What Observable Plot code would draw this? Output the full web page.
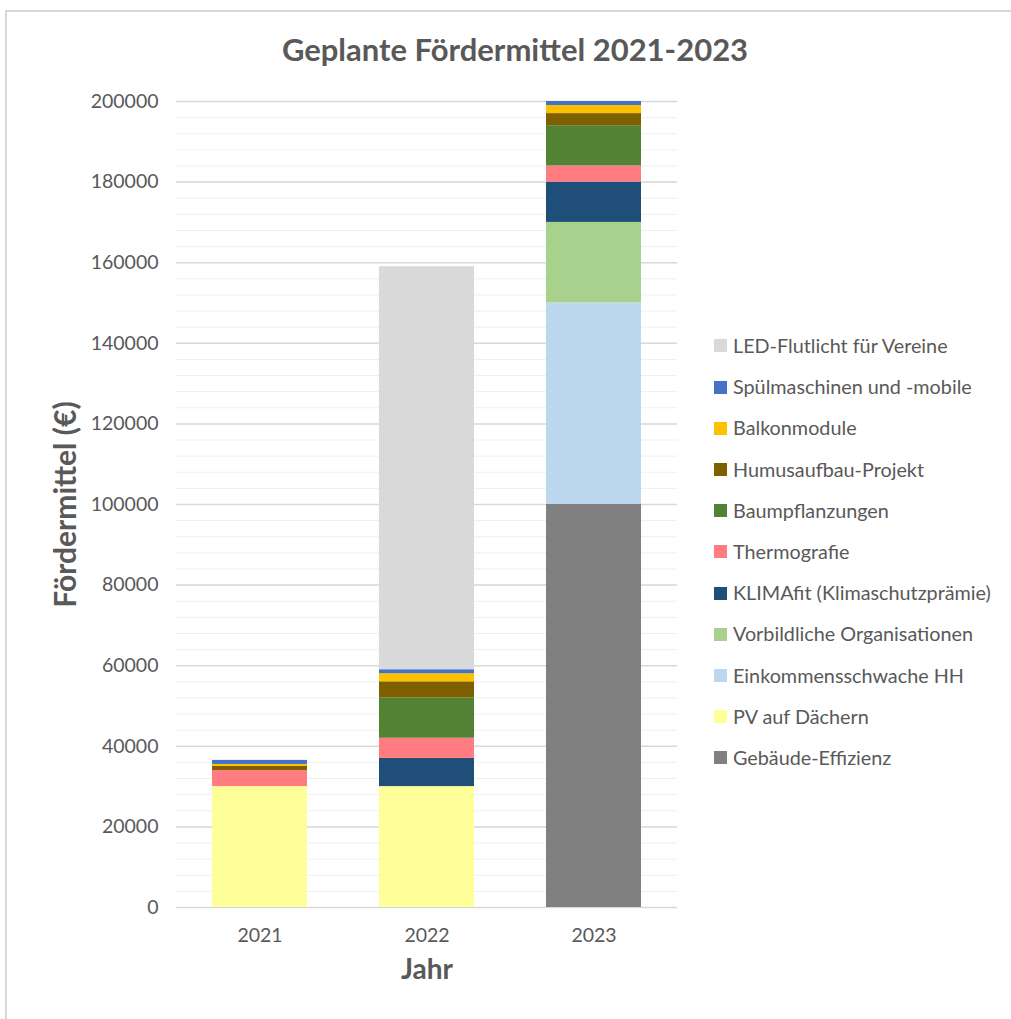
<!DOCTYPE html>
<html><head><meta charset="utf-8">
<script src="https://cdn.jsdelivr.net/npm/d3@7"></script>
<script src="https://cdn.jsdelivr.net/npm/@observablehq/plot@0.6"></script>
<style>
body{margin:0;background:#fff;font-family:Lato,"Open Sans",sans-serif;}
#wrap{position:relative;width:1011px;height:1019px;overflow:hidden;}
#frame{position:absolute;left:5px;top:10px;width:1020px;height:1030px;border:2px solid #d9d9d9;box-sizing:border-box;}
#title{position:absolute;left:0;width:1030px;top:30px;text-align:center;font-size:31px;font-weight:bold;color:#595959;}
#legend{position:absolute;left:714px;top:0;}
.li{position:absolute;left:0;white-space:nowrap;font-size:19.8px;color:#595959;height:22px;line-height:22px;}
.sw{display:inline-block;width:13px;height:13px;vertical-align:middle;margin-right:6px;position:relative;top:-2px;}
#chart{position:absolute;left:0;top:0;}
</style></head>
<body><div id="wrap"><div id="frame"></div><div id="chart"></div><div id="title">Geplante Fördermittel 2021-2023</div><div id="legend"></div></div>
<script>
const years = ["2021", "2022", "2023"];
const series = ["Gebäude-Effizienz", "PV auf Dächern", "Einkommensschwache HH", "Vorbildliche Organisationen", "KLIMAfit (Klimaschutzprämie)", "Thermografie", "Baumpflanzungen", "Humusaufbau-Projekt", "Balkonmodule", "Spülmaschinen und -mobile", "LED-Flutlicht für Vereine"];
const colors = ["#808080", "#FFFF99", "#BDD7EE", "#A9D18E", "#1F4E79", "#FF7C80", "#548235", "#7F6000", "#FFC000", "#4472C4", "#D9D9D9"];
const gebaeude = [0, 0, 100000];
const pv = [30000, 30000, 0];
const einkommen = [0, 0, 50000];
const vorbild = [0, 0, 20000];
const klimafit = [0, 7000, 10000];
const thermo = [4000, 5000, 4000];
const baum = [0, 10000, 10000];
const humus = [1000, 4000, 3000];
const balkon = [500, 2000, 2000];
const spuel = [1000, 1000, 1000];
const led = [0, 100000, 0];
const yTicks = d3.range(0, 200001, 20000);
const minorTicks = d3.range(0, 200001, 4000);

const valuesBySeries = [gebaeude, pv, einkommen, vorbild, klimafit, thermo, baum, humus, balkon, spuel, led];
const data = [];
series.forEach((s, i) => years.forEach((y, j) => data.push({year: y, series: s, value: valuesBySeries[i][j]})));

const chart = Plot.plot({
  width: 1011, height: 1019,
  marginLeft: 176, marginRight: 334, marginTop: 101, marginBottom: 112,
  style: {fontFamily: "Lato, 'Open Sans', sans-serif", fontSize: "19.5px", color: "#595959", background: "transparent"},
  x: {domain: years, paddingInner: 0.43, paddingOuter: 0.215, label: null},
  y: {domain: [0, 200000], label: null},
  color: {domain: series, range: colors},
  marks: [
    Plot.ruleY(minorTicks, {stroke: "#efefef", strokeWidth: 1}),
    Plot.ruleY(yTicks, {stroke: "#d9d9d9", strokeWidth: 1.5}),
    Plot.barY(data, {x: "year", y: "value", fill: "series", order: series}),
    Plot.axisY({ticks: yTicks, tickFormat: d3.format("d"), tickSize: 0, tickPadding: 18, label: null, fontSize: 19.5}),
    Plot.axisX({tickSize: 0, tickPadding: 21, label: null, fontSize: 19.5}),
    Plot.text(["Fördermittel (€)"], {frameAnchor: "left", text: d => d, textAnchor: "middle", rotate: -90, dx: -110, fontSize: 30, fontWeight: "bold", fill: "#595959"}),
    Plot.text(["Jahr"], {frameAnchor: "bottom", text: d => d, textAnchor: "middle", dy: 71, fontSize: 28, fontWeight: "bold", fill: "#595959"})
  ]
});
document.getElementById("chart").appendChild(chart);

const leg = document.getElementById("legend");
const order = series.slice().reverse();
const cols = colors.slice().reverse();
order.forEach((s, i) => {
  const d = document.createElement("div");
  d.className = "li";
  d.style.top = (345 + i * 41.2 - 11) + "px";
  d.innerHTML = `<span class="sw" style="background:${cols[i]}"></span>${s}`;
  leg.appendChild(d);
});
</script></body></html>
